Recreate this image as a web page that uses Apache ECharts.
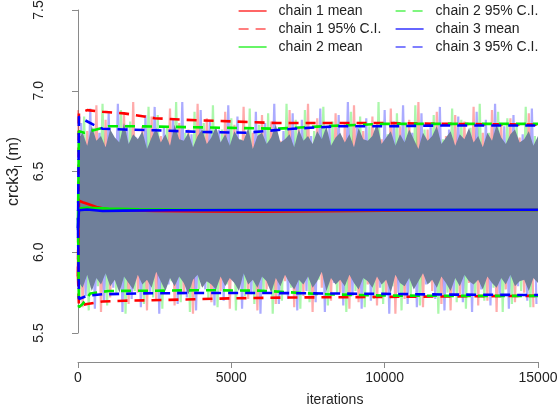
<!DOCTYPE html>
<html>
<head>
<meta charset="utf-8">
<script src="https://cdn.jsdelivr.net/npm/echarts@6/dist/echarts.min.js"></script>
<style>html,body{margin:0;padding:0;background:#fff}#c{width:558px;height:417px}</style>
</head>
<body>
<div id="c"></div>
<script>
// ---- data ----
var xTicks = [0, 5000, 10000, 15000];
var yTicks = [5.5, 6.0, 6.5, 7.0, 7.5];
var traceStep = 150;
var chain1Trace = [6.88,5.66,6.75,5.78,6.91,5.63,6.82,5.72,6.70,5.81,6.86,5.68,6.93,5.75,6.78,5.64,6.84,5.70,6.72,5.83,6.89,5.67,6.80,5.74,6.76,5.62,6.92,5.79,6.83,5.69,6.71,5.76,6.87,5.65,6.79,5.80,6.90,5.71,6.74,5.64,6.85,5.77,6.81,5.68,6.69,5.82,6.88,5.66,6.77,5.73,6.92,5.63,6.83,5.78,6.73,5.70,6.86,5.75,6.80,5.65,6.91,5.69,6.75,5.80,6.84,5.67,6.70,5.74,6.89,5.62,6.78,5.71,6.82,5.79,6.93,5.66,6.76,5.76,6.87,5.68,6.72,5.64,6.85,5.73,6.81,5.81,6.90,5.67,6.74,5.70,6.88,5.63,6.79,5.77,6.83,5.69,6.71,5.75,6.86,5.66];
var chain2Trace = [5.70,6.84,5.64,6.77,5.79,6.92,5.67,6.73,5.74,6.88,5.62,6.81,5.76,6.69,5.68,6.90,5.72,6.85,5.65,6.78,5.82,6.93,5.69,6.74,5.63,6.87,5.77,6.80,5.71,6.91,5.66,6.76,5.80,6.83,5.64,6.70,5.73,6.89,5.68,6.79,5.75,6.86,5.62,6.72,5.70,6.92,5.78,6.82,5.65,6.88,5.69,6.75,5.83,6.90,5.67,6.81,5.74,6.71,5.63,6.87,5.76,6.84,5.66,6.78,5.71,6.93,5.68,6.73,5.79,6.86,5.64,6.80,5.72,6.91,5.67,6.76,5.81,6.85,5.62,6.70,5.75,6.89,5.69,6.82,5.65,6.77,5.73,6.92,5.70,6.74,5.78,6.87,5.63,6.83,5.68,6.79,5.76,6.90,5.66,6.72];
var chain3Trace = [6.80,5.73,6.89,5.65,6.74,5.69,6.86,5.78,6.92,5.63,6.79,5.71,6.71,5.66,6.85,5.75,6.90,5.62,6.77,5.80,6.83,5.68,6.93,5.72,6.73,5.64,6.88,5.77,6.81,5.67,6.76,5.70,6.91,5.83,6.84,5.65,6.69,5.74,6.87,5.62,6.80,5.79,6.92,5.68,6.75,5.71,6.86,5.64,6.82,5.76,6.72,5.69,6.89,5.63,6.78,5.81,6.85,5.67,6.93,5.73,6.77,5.65,6.83,5.70,6.70,5.78,6.88,5.62,6.81,5.75,6.91,5.68,6.74,5.66,6.86,5.80,6.79,5.71,6.90,5.64,6.76,5.74,6.84,5.69,6.72,5.63,6.87,5.77,6.82,5.67,6.92,5.72,6.78,5.65,6.85,5.79,6.73,5.70,6.89,5.68];

// dense overlap region of the three traces (upper / lower edge, every 150 iterations)
var bandStep = 150;
var bandHigh = [6.70,6.74,6.66,6.78,6.69,6.72,6.65,6.76,6.71,6.68,6.80,6.67,6.73,6.70,6.75,6.64,6.71,6.77,6.68,6.73,6.66,6.79,6.70,6.69,6.74,6.65,6.72,6.76,6.67,6.71,6.78,6.68,6.73,6.66,6.75,6.70,6.69,6.77,6.64,6.72,6.74,6.67,6.71,6.79,6.68,6.70,6.73,6.65,6.76,6.69,6.72,6.67,6.75,6.70,6.78,6.66,6.71,6.74,6.68,6.73,6.65,6.77,6.70,6.69,6.72,6.80,6.67,6.71,6.75,6.66,6.73,6.68,6.76,6.70,6.64,6.74,6.69,6.72,6.78,6.67,6.71,6.75,6.66,6.73,6.70,6.77,6.68,6.72,6.65,6.74,6.69,6.79,6.71,6.67,6.73,6.76,6.68,6.70,6.75,6.66,6.72];
var bandLow  = [5.82,5.78,5.86,5.76,5.84,5.80,5.87,5.79,5.83,5.75,5.85,5.81,5.77,5.86,5.80,5.83,5.78,5.88,5.82,5.76,5.84,5.79,5.85,5.81,5.74,5.83,5.86,5.78,5.82,5.80,5.77,5.85,5.79,5.84,5.81,5.76,5.87,5.80,5.83,5.78,5.85,5.82,5.75,5.84,5.79,5.86,5.81,5.77,5.83,5.80,5.85,5.78,5.82,5.88,5.76,5.84,5.80,5.83,5.79,5.86,5.81,5.77,5.84,5.82,5.78,5.85,5.80,5.83,5.75,5.86,5.81,5.79,5.84,5.77,5.82,5.87,5.80,5.83,5.78,5.85,5.81,5.76,5.84,5.79,5.86,5.82,5.80,5.83,5.77,5.85,5.81,5.78,5.84,5.80,5.86,5.79,5.82,5.83,5.76,5.84,5.81];

var c1MeanIter = [0, 30, 150, 300, 600, 1000, 1500, 2500, 4000, 6000, 8000, 10000, 12000, 15000];
var c1Mean     = [5.85, 6.32, 6.31, 6.30, 6.28, 6.265, 6.26, 6.255, 6.252, 6.251, 6.254, 6.257, 6.26, 6.262];
var c2MeanIter = [0, 30, 300, 1000, 2000, 4000, 8000, 15000];
var c2Mean     = [6.20, 6.27, 6.275, 6.27, 6.266, 6.262, 6.262, 6.262];
var c3MeanIter = [0, 30, 300, 800, 1500, 3000, 6000, 15000];
var c3Mean     = [6.15, 6.26, 6.265, 6.255, 6.258, 6.26, 6.262, 6.263];

var c1UpIter = [0, 30, 300, 800, 1500, 2500, 3500, 5000, 6500, 8000, 10000, 12000, 15000];
var c1Up     = [5.85, 6.86, 6.88, 6.87, 6.86, 6.83, 6.82, 6.81, 6.80, 6.80, 6.80, 6.795, 6.79];
var c2UpIter = [0, 30, 200, 600, 1000, 2000, 3500, 5000, 6500, 8000, 10000, 12000, 15000];
var c2Up     = [6.20, 6.75, 6.74, 6.76, 6.78, 6.78, 6.775, 6.77, 6.765, 6.78, 6.795, 6.795, 6.795];
var c3UpIter = [0, 30, 200, 500, 800, 1500, 2500, 4000, 5500, 7000, 8500, 10000, 12000, 15000];
var c3Up     = [6.15, 6.84, 6.82, 6.79, 6.765, 6.76, 6.755, 6.745, 6.74, 6.765, 6.78, 6.78, 6.785, 6.785];

var c1LoIter = [0, 30, 300, 800, 1500, 3000, 5000, 7000, 9000, 11000, 13000, 15000];
var c1Lo     = [5.85, 5.67, 5.68, 5.695, 5.70, 5.705, 5.715, 5.72, 5.722, 5.725, 5.728, 5.73];
var c2LoIter = [0, 30, 150, 400, 1000, 2500, 4000, 6000, 8000, 10000, 12000, 15000];
var c2Lo     = [6.20, 5.66, 5.68, 5.745, 5.76, 5.762, 5.765, 5.762, 5.74, 5.732, 5.73, 5.73];
var c3LoIter = [0, 30, 300, 800, 2000, 4000, 6000, 8000, 10000, 12000, 15000];
var c3Lo     = [6.15, 5.71, 5.73, 5.74, 5.745, 5.748, 5.748, 5.745, 5.742, 5.738, 5.735];

// ---- build ----
function pairs(xs, ys) { return ys.map(function (v, i) { return [xs[i], v]; }); }
function tracePairs(vals, offset) { return vals.map(function (v, i) { return [i * traceStep + offset, v]; }); }

var FONT = '"Liberation Sans", Arial, Helvetica, sans-serif';
var RED = '#ff0000', GREEN = '#00ee00', BLUE = '#0000ff';

function traceSeries(name, vals, offset, color) {
  return { name: name, type: 'line', data: tracePairs(vals, offset), symbol: 'none', silent: true,
    lineStyle: { color: color, width: 2.2 }, z: 1 };
}
function statSeries(name, xs, ys, color, dashed) {
  return { name: name, type: 'line', data: pairs(xs, ys), symbol: 'none', silent: true,
    itemStyle: { color: color },
    lineStyle: { color: color, width: 2.6, type: dashed ? [10, 7] : 'solid' }, z: 3 };
}

var nBand = Math.min(bandHigh.length, bandLow.length);
var bandData = [];
for (var k = 0; k < nBand; k++) bandData.push([k * bandStep, bandLow[k], bandHigh[k]]);

var series = [
  traceSeries('chain 1 trace', chain1Trace, 0, 'rgba(255,0,0,0.33)'),
  traceSeries('chain 2 trace', chain2Trace, 50, 'rgba(0,230,0,0.33)'),
  traceSeries('chain 3 trace', chain3Trace, 100, 'rgba(0,0,255,0.33)'),
  { name: 'band', type: 'custom', data: bandData, silent: true, z: 2,
    encode: { x: 0, y: [1, 2] },
    renderItem: function (params, api) {
      if (params.dataIndex !== 0) return null;
      var top = [], bot = [];
      for (var i = 0; i < bandData.length; i++) {
        top.push(api.coord([bandData[i][0], bandData[i][2]]));
        bot.unshift(api.coord([bandData[i][0], bandData[i][1]]));
      }
      return { type: 'polygon', shape: { points: top.concat(bot) }, style: { fill: '#6f7f9a' } };
    }
  },
  statSeries('chain 1 mean', c1MeanIter, c1Mean, RED, false),
  statSeries('chain 1 95% C.I.', c1UpIter, c1Up, RED, true),
  statSeries('chain 1 95% C.I.', c1LoIter, c1Lo, RED, true),
  statSeries('chain 2 mean', c2MeanIter, c2Mean, GREEN, false),
  statSeries('chain 2 95% C.I.', c2UpIter, c2Up, GREEN, true),
  statSeries('chain 2 95% C.I.', c2LoIter, c2Lo, GREEN, true),
  statSeries('chain 3 mean', c3MeanIter, c3Mean, BLUE, false),
  statSeries('chain 3 95% C.I.', c3UpIter, c3Up, BLUE, true),
  statSeries('chain 3 95% C.I.', c3LoIter, c3Lo, BLUE, true)
];

var legendCommon = {
  orient: 'vertical', top: -1, itemWidth: 28, itemHeight: 14, itemGap: 4,
  selectedMode: false,
  itemStyle: { opacity: 0 },
  lineStyle: { width: 1.2 },
  textStyle: { fontFamily: FONT, fontSize: 14, color: '#222', lineHeight: 14, padding: [0, 0, 0, 7] }
};

var chart = echarts.init(document.getElementById('c'), null, { renderer: 'canvas' });
chart.setOption({
  animation: false,
  backgroundColor: '#ffffff',
  grid: { left: 78, right: 20, top: 10, bottom: 84, outerBoundsMode: 'none' },
  legend: [
    Object.assign({ left: 233, data: ['chain 1 mean', 'chain 1 95% C.I.', 'chain 2 mean'] }, legendCommon),
    Object.assign({ left: 390, data: ['chain 2 95% C.I.', 'chain 3 mean', 'chain 3 95% C.I.'] }, legendCommon)
  ],
  xAxis: {
    type: 'value', min: xTicks[0], max: xTicks[xTicks.length - 1], interval: 5000,
    offset: 29,
    name: 'iterations', nameLocation: 'middle', nameGap: 31,
    nameTextStyle: { fontFamily: FONT, fontSize: 14, color: '#222', padding: [0, 0, 0, 54] },
    axisLine: { show: true, lineStyle: { color: '#8a8a8a', width: 1 } },
    axisTick: { show: true, length: 6, lineStyle: { color: '#8a8a8a' } },
    axisLabel: { fontFamily: FONT, fontSize: 14, color: '#222', margin: 9,
      formatter: function (v) { return String(v); } },
    splitLine: { show: false }
  },
  yAxis: {
    type: 'value', min: yTicks[0], max: yTicks[yTicks.length - 1], interval: 0.5,
    offset: 20,
    name: '{a|crck3}{b|l}{a| (m)}', nameLocation: 'middle', nameGap: 26,
    nameTextStyle: {
      fontFamily: FONT, color: '#222',
      rich: {
        a: { fontFamily: FONT, fontSize: 16, color: '#222', lineHeight: 22 },
        b: { fontFamily: FONT, fontSize: 11, color: '#222', lineHeight: 11, verticalAlign: 'bottom' }
      }
    },
    axisLine: { show: true, lineStyle: { color: '#8a8a8a', width: 1 } },
    axisTick: { show: true, length: 6, lineStyle: { color: '#8a8a8a' } },
    axisLabel: { fontFamily: FONT, fontSize: 14, color: '#222', rotate: 90, margin: 12,
      formatter: function (v) { return v.toFixed(1); } },
    splitLine: { show: false }
  },
  series: series
});
</script>
</body>
</html>
